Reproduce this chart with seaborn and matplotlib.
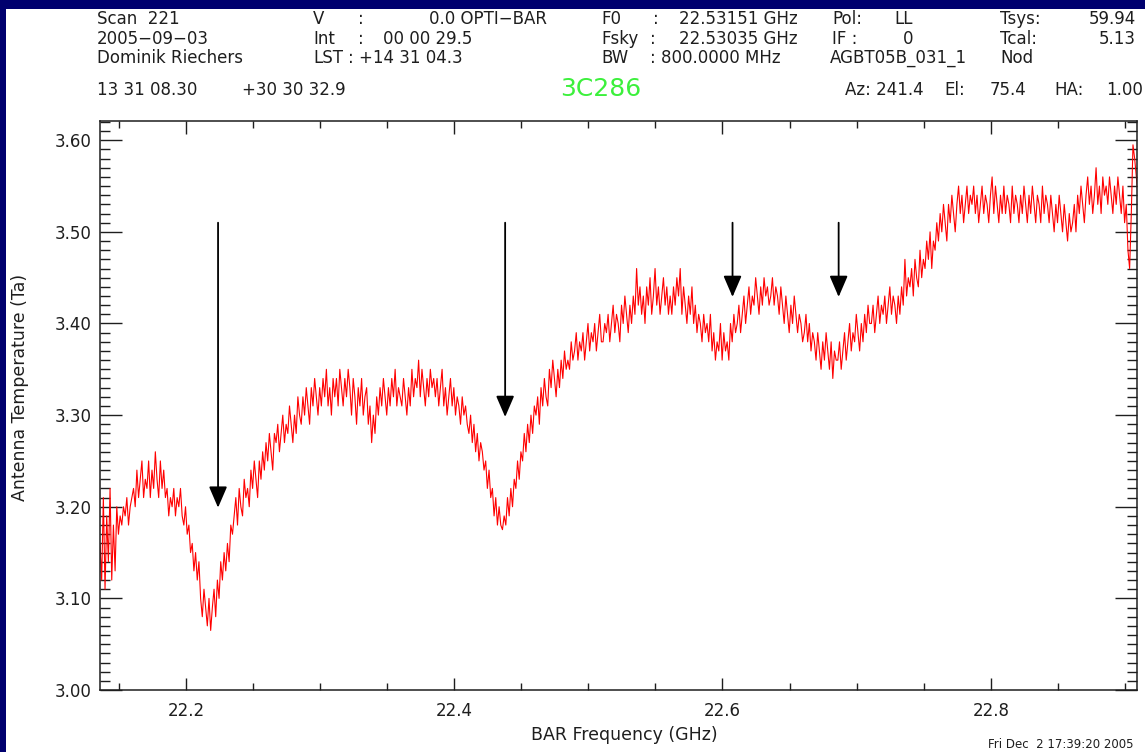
import numpy as np
import pandas as pd
import matplotlib
matplotlib.use("Agg")
import matplotlib.pyplot as plt
from matplotlib.patches import Rectangle, ArrowStyle
from matplotlib.ticker import MultipleLocator, FormatStrFormatter
import seaborn as sns

# Channel grid of the spectrum (GHz)
freq_start = 22.136
freq_step = 0.00125

# Antenna temperature per channel (K), twenty channels (25 MHz) per row
ta = [
    3.16, 3.12, 3.21, 3.11, 3.19, 3.14, 3.22, 3.12, 3.18, 3.13, 3.20, 3.17, 3.19, 3.18, 3.20, 3.19, 3.21, 3.18, 3.20, 3.21,
    3.22, 3.20, 3.24, 3.21, 3.23, 3.25, 3.21, 3.23, 3.22, 3.25, 3.21, 3.24, 3.22, 3.26, 3.23, 3.21, 3.25, 3.22, 3.24, 3.21,
    3.22, 3.19, 3.21, 3.20, 3.22, 3.19, 3.21, 3.20, 3.22, 3.19, 3.18, 3.20, 3.17, 3.18, 3.15, 3.16, 3.13, 3.15, 3.12, 3.14,
    3.10, 3.08, 3.11, 3.09, 3.07, 3.10, 3.065, 3.09, 3.11, 3.08, 3.12, 3.10, 3.14, 3.12, 3.15, 3.13, 3.16, 3.14, 3.18, 3.17,
    3.19, 3.21, 3.18, 3.22, 3.20, 3.19, 3.23, 3.21, 3.22, 3.20, 3.24, 3.22, 3.25, 3.23, 3.21, 3.25, 3.23, 3.26, 3.24, 3.27,
    3.25, 3.28, 3.26, 3.24, 3.28, 3.27, 3.29, 3.26, 3.28, 3.30, 3.27, 3.29, 3.28, 3.31, 3.29, 3.27, 3.30, 3.28, 3.32, 3.30,
    3.29, 3.32, 3.30, 3.33, 3.31, 3.29, 3.33, 3.31, 3.34, 3.32, 3.30, 3.33, 3.31, 3.34, 3.32, 3.35, 3.31, 3.33, 3.30, 3.34,
    3.32, 3.34, 3.31, 3.35, 3.33, 3.31, 3.34, 3.32, 3.35, 3.33, 3.30, 3.34, 3.32, 3.29, 3.33, 3.31, 3.34, 3.30, 3.32, 3.33,
    3.29, 3.31, 3.27, 3.30, 3.28, 3.32, 3.30, 3.33, 3.31, 3.34, 3.32, 3.30, 3.33, 3.31, 3.34, 3.32, 3.35, 3.31, 3.33, 3.32,
    3.31, 3.34, 3.32, 3.30, 3.33, 3.31, 3.35, 3.32, 3.34, 3.33, 3.36, 3.32, 3.35, 3.33, 3.31, 3.34, 3.32, 3.35, 3.33, 3.34,
    3.32, 3.34, 3.31, 3.33, 3.35, 3.31, 3.33, 3.30, 3.32, 3.34, 3.31, 3.33, 3.30, 3.32, 3.31, 3.29, 3.32, 3.30, 3.31, 3.29,
    3.28, 3.30, 3.27, 3.29, 3.26, 3.28, 3.25, 3.27, 3.26, 3.24, 3.25, 3.22, 3.24, 3.21, 3.22, 3.19, 3.21, 3.18, 3.20, 3.18,
    3.175, 3.19, 3.18, 3.21, 3.19, 3.22, 3.20, 3.23, 3.22, 3.25, 3.23, 3.26, 3.25, 3.28, 3.26, 3.29, 3.27, 3.30, 3.28, 3.31,
    3.30, 3.32, 3.29, 3.33, 3.31, 3.34, 3.32, 3.31, 3.35, 3.33, 3.36, 3.34, 3.32, 3.35, 3.33, 3.36, 3.34, 3.37, 3.35, 3.36,
    3.35, 3.38, 3.36, 3.37, 3.39, 3.36, 3.38, 3.37, 3.39, 3.36, 3.38, 3.40, 3.37, 3.39, 3.38, 3.40, 3.37, 3.39, 3.41, 3.38,
    3.38, 3.40, 3.39, 3.41, 3.38, 3.40, 3.42, 3.39, 3.41, 3.40, 3.38, 3.42, 3.40, 3.43, 3.41, 3.39, 3.42, 3.40, 3.43, 3.41,
    3.46, 3.42, 3.44, 3.41, 3.43, 3.40, 3.44, 3.42, 3.45, 3.41, 3.43, 3.46, 3.42, 3.44, 3.41, 3.43, 3.45, 3.42, 3.44, 3.41,
    3.43, 3.41, 3.44, 3.42, 3.45, 3.43, 3.46, 3.41, 3.44, 3.42, 3.40, 3.43, 3.41, 3.44, 3.40, 3.42, 3.39, 3.41, 3.40, 3.38,
    3.41, 3.39, 3.40, 3.38, 3.41, 3.37, 3.39, 3.36, 3.38, 3.37, 3.40, 3.36, 3.39, 3.37, 3.38, 3.36, 3.40, 3.38, 3.41, 3.39,
    3.40, 3.42, 3.39, 3.41, 3.43, 3.40, 3.42, 3.44, 3.41, 3.43, 3.42, 3.45, 3.43, 3.41, 3.44, 3.42, 3.45, 3.43, 3.44, 3.42,
    3.43, 3.45, 3.42, 3.44, 3.43, 3.41, 3.44, 3.42, 3.40, 3.43, 3.41, 3.39, 3.42, 3.40, 3.43, 3.41, 3.39, 3.41, 3.40, 3.38,
    3.39, 3.41, 3.38, 3.40, 3.37, 3.39, 3.38, 3.36, 3.39, 3.37, 3.35, 3.38, 3.36, 3.39, 3.37, 3.35, 3.38, 3.34, 3.37, 3.36,
    3.36, 3.38, 3.35, 3.37, 3.39, 3.36, 3.38, 3.40, 3.37, 3.39, 3.38, 3.41, 3.39, 3.37, 3.40, 3.38, 3.41, 3.39, 3.42, 3.40,
    3.40, 3.42, 3.39, 3.41, 3.43, 3.40, 3.42, 3.41, 3.43, 3.40, 3.42, 3.44, 3.41, 3.43, 3.42, 3.40, 3.43, 3.41, 3.44, 3.42,
    3.47, 3.43, 3.45, 3.44, 3.46, 3.43, 3.47, 3.45, 3.44, 3.48, 3.45, 3.47, 3.46, 3.49, 3.47, 3.50, 3.46, 3.49, 3.48, 3.51,
    3.49, 3.52, 3.50, 3.53, 3.51, 3.49, 3.53, 3.51, 3.54, 3.52, 3.50, 3.53, 3.55, 3.52, 3.54, 3.51, 3.53, 3.55, 3.52, 3.54,
    3.53, 3.55, 3.52, 3.54, 3.51, 3.53, 3.55, 3.52, 3.54, 3.53, 3.51, 3.54, 3.56, 3.52, 3.55, 3.53, 3.51, 3.54, 3.52, 3.55,
    3.52, 3.54, 3.53, 3.51, 3.55, 3.52, 3.54, 3.53, 3.51, 3.54, 3.52, 3.55, 3.53, 3.51, 3.54, 3.52, 3.55, 3.53, 3.51, 3.54,
    3.53, 3.51, 3.55, 3.52, 3.54, 3.53, 3.51, 3.54, 3.52, 3.50, 3.53, 3.51, 3.54, 3.52, 3.50, 3.53, 3.51, 3.49, 3.52, 3.50,
    3.51, 3.53, 3.50, 3.54, 3.52, 3.55, 3.53, 3.51, 3.54, 3.56, 3.53, 3.55, 3.52, 3.54, 3.57, 3.53, 3.55, 3.52, 3.56, 3.54,
    3.55, 3.53, 3.56, 3.54, 3.52, 3.55, 3.53, 3.56, 3.54, 3.52, 3.55, 3.51, 3.53, 3.48, 3.46, 3.52, 3.595, 3.58, 3.56, 3.54,
]

freq = freq_start + freq_step * np.arange(len(ta))

# Marked features: frequency, level of the arrow tip, and common arrow top
arrow_freqs = [22.224, 22.438, 22.6075, 22.6866]
arrow_tips = [3.199, 3.298, 3.429, 3.429]
arrow_top = 3.51

source_name = "3C286"
timestamp = "Fri Dec  2 17:39:20 2005"

sns.set_theme(style="ticks")
plt.rcParams["font.family"] = ["DejaVu Sans"]

W, H = 1145, 752
NAVY = "#00006e"
INK = "#1e1e1e"

fig = plt.figure(figsize=(W / 100, H / 100), dpi=100, facecolor=NAVY)
fig.patches.append(Rectangle((6 / W, 0), 1 - 6 / W, 1 - 9 / H,
                             transform=fig.transFigure, facecolor="white",
                             edgecolor="none", zorder=-10))

ax = fig.add_axes([100 / W, 1 - 690 / H, 1037 / W, 569 / H])
ax.set_zorder(5)
ax.set_facecolor("white")

df = pd.DataFrame({"freq": freq, "ta": ta})
sns.lineplot(data=df, x="freq", y="ta", ax=ax, color="#ff0000",
             linewidth=0.8, estimator=None, sort=False)

head = ArrowStyle("-|>", head_length=0.65, head_width=0.28)
for f, tip in zip(arrow_freqs, arrow_tips):
    ax.annotate("", xy=(f, tip), xytext=(f, arrow_top),
                arrowprops=dict(arrowstyle=head, color="black", lw=1.3,
                                mutation_scale=20, shrinkA=0, shrinkB=0))

ax.set_xlim(22.136, 22.909)
ax.set_ylim(3.0, 3.621)
ax.xaxis.set_major_locator(MultipleLocator(0.2))
ax.xaxis.set_minor_locator(MultipleLocator(0.05))
ax.yaxis.set_major_locator(MultipleLocator(0.1))
ax.yaxis.set_minor_locator(MultipleLocator(0.01))
ax.xaxis.set_major_formatter(FormatStrFormatter("%.1f"))
ax.yaxis.set_major_formatter(FormatStrFormatter("%.2f"))

ax.tick_params(which="both", direction="in", top=True, right=True,
               color=INK, labelcolor=INK, labelsize=12, width=1.0)
ax.tick_params(axis="y", which="major", length=15.5, pad=6)
ax.tick_params(axis="y", which="minor", length=7.2)
ax.tick_params(axis="x", which="major", length=9, pad=9)
ax.tick_params(axis="x", which="minor", length=5)
for sp in ax.spines.values():
    sp.set_color(INK)
    sp.set_linewidth(1.1)

ax.set_xlabel("BAR Frequency (GHz)", fontsize=12.5, color=INK)
ax.set_ylabel("Antenna Temperature (Ta)", fontsize=12.5, color=INK)
ax.xaxis.label.set_va("center")
ax.yaxis.label.set_va("center")
ax.xaxis.set_label_coords((624 - 100) / 1037, (690 - 735) / 569)
ax.yaxis.set_label_coords((20 - 100) / 1037, (690 - 387) / 569)


def put(px, py, s, size=12, color=INK, ha="left"):
    fig.text(px / W, 1 - py / H, s, fontsize=size, color=color,
             ha=ha, va="center")


# Observation summary above the plot
r1, r2, r3, r4 = 19, 39, 58, 90
put(97, r1, "Scan  221")
put(97, r2, "2005\u221209\u221203")
put(97, r3, "Dominik Riechers")
put(97, r4, "13 31 08.30")
put(242, r4, "+30 30 32.9")

put(313, r1, "V")
put(358, r1, ":")
put(429, r1, "0.0 OPTI\u2212BAR")
put(313, r2, "Int")
put(358, r2, ":")
put(383, r2, "00 00 29.5")
put(313, r3, "LST")
put(348, r3, ": +14 31 04.3")

put(601, r1, "F0")
put(653, r1, ":")
put(679, r1, "22.53151 GHz")
put(601, r2, "Fsky")
put(650, r2, ":")
put(679, r2, "22.53035 GHz")
put(601, r3, "BW")
put(650, r3, ": 800.0000 MHz")

put(832, r1, "Pol:")
put(894, r1, "LL")
put(832, r2, "IF :")
put(903, r2, "0")
put(830, r3, "AGBT05B_031_1")

put(1000, r1, "Tsys:")
put(1136, r1, "59.94", ha="right")
put(1000, r2, "Tcal:")
put(1136, r2, "5.13", ha="right")
put(1000, r3, "Nod")

put(601, r4 - 1, source_name, size=18, color="#3cf03c", ha="center")
put(845, r4, "Az: 241.4")
put(944, r4, "El:")
put(990, r4, "75.4")
put(1054, r4, "HA:")
put(1106, r4, "1.00")

put(1133, 745, timestamp, size=8.5, ha="right")

fig.savefig("out.png", dpi=100, facecolor=NAVY)
